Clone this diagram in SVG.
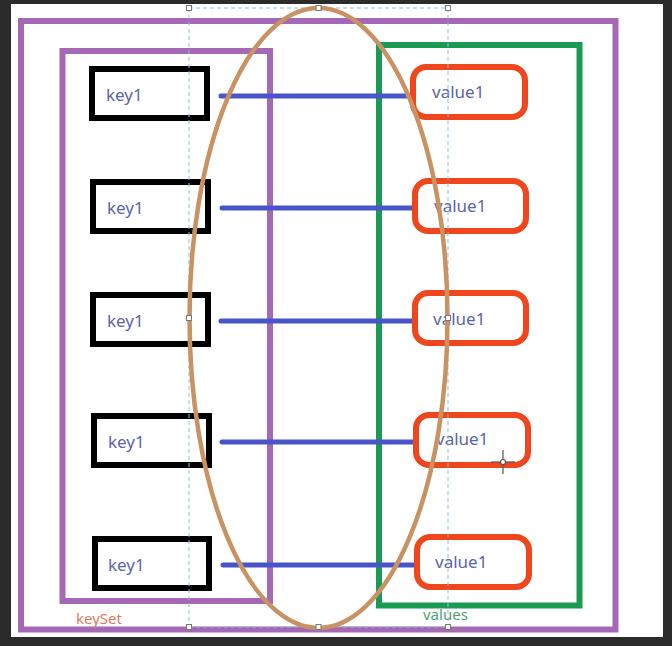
<svg xmlns="http://www.w3.org/2000/svg" width="672" height="646" viewBox="0 0 672 646">
  <style>
    .frame { fill: none; stroke: #a468b4; stroke-width: 6; }
    .vals { fill: none; stroke: #1a9a52; stroke-width: 6; }
    .key { fill: #ffffff; stroke: #000000; stroke-width: 6; }
    .val { fill: #ffffff; stroke: #f0461e; stroke-width: 6; }
    .link { stroke: #4755c8; stroke-width: 5; stroke-linecap: round; }
    .txt { font-family: "Noto Sans", "Liberation Sans", sans-serif; font-size: 17px; fill: #5d64aa; }
    .lbl { font-family: "Noto Sans", "Liberation Sans", sans-serif; font-size: 15px; }
    .sel { fill: none; stroke: #8bbfd8; stroke-width: 1; stroke-dasharray: 4 3; }
    .handle { fill: #ffffff; stroke: #777777; stroke-width: 1; }
  </style>
  <rect x="0" y="0" width="672" height="646" fill="#2b2b2b"/>
  <rect x="11" y="4" width="652" height="633" fill="#ffffff"/>

  <g id="outer-frame">
    <rect class="frame" x="21" y="21" width="594.5" height="608.5"/>
  </g>
  <g id="keySet">
    <rect class="frame" x="62.5" y="51" width="207.5" height="550"/>
    <text class="lbl" x="76" y="624" fill="#e07a62">keySet</text>
  </g>
  <g id="values">
    <rect class="vals" x="379" y="45" width="200.5" height="560.5"/>
    <text class="lbl" x="423" y="620" fill="#4f9e72">values</text>
  </g>

  <g id="connectors">
    <line class="link" x1="221" y1="96" x2="410" y2="96"/>
    <line class="link" x1="222" y1="208" x2="412" y2="208"/>
    <line class="link" x1="221" y1="321" x2="412" y2="321"/>
    <line class="link" x1="222" y1="442" x2="414" y2="442"/>
    <line class="link" x1="223" y1="565" x2="414" y2="565"/>
  </g>

  <g id="key-1"><rect class="key" x="92" y="69" width="115" height="49"/><text class="txt" x="106" y="101">key1</text></g>
  <g id="key-2"><rect class="key" x="93" y="182" width="115" height="49"/><text class="txt" x="107" y="214">key1</text></g>
  <g id="key-3"><rect class="key" x="93" y="295" width="115" height="49"/><text class="txt" x="107" y="327">key1</text></g>
  <g id="key-4"><rect class="key" x="94" y="416" width="115" height="49"/><text class="txt" x="108" y="448">key1</text></g>
  <g id="key-5"><rect class="key" x="95" y="539" width="114" height="49"/><text class="txt" x="108" y="571">key1</text></g>

  <g id="value-1"><rect class="val" x="413" y="67" width="112" height="50" rx="13"/><text class="txt" x="432" y="98">value1</text></g>
  <g id="value-2"><rect class="val" x="415" y="181" width="111" height="50" rx="13"/><text class="txt" x="434" y="212">value1</text></g>
  <g id="value-3"><rect class="val" x="415" y="293" width="111" height="50" rx="13"/><text class="txt" x="433" y="325">value1</text></g>
  <g id="value-4"><rect class="val" x="416" y="415" width="112" height="50" rx="13"/><text class="txt" x="436" y="445">value1</text></g>
  <g id="value-5"><rect class="val" x="417" y="537" width="112" height="50" rx="13"/><text class="txt" x="435" y="568">value1</text></g>

  <g id="selection">
    <line class="sel" x1="189" y1="8" x2="448" y2="8"/>
    <line class="sel" x1="189" y1="627" x2="448" y2="627"/>
    <line class="sel" x1="189" y1="8" x2="189" y2="627"/>
    <line class="sel" x1="448" y1="8" x2="448" y2="627"/>
  </g>

  <g id="ellipse">
    <ellipse cx="318.5" cy="318" rx="129" ry="310" fill="none" stroke="#c89262" stroke-width="4.5"/>
  </g>

  <g id="handles">
    <rect class="handle" x="186.5" y="5.5" width="5" height="5"/>
    <rect class="handle" x="316" y="5.5" width="5" height="5"/>
    <rect class="handle" x="445.5" y="5.5" width="5" height="5"/>
    <rect class="handle" x="186.5" y="624.5" width="5" height="5"/>
    <rect class="handle" x="316" y="624.5" width="5" height="5"/>
    <rect class="handle" x="445.5" y="624.5" width="5" height="5"/>
    <rect class="handle" x="186.5" y="315.5" width="5" height="5"/>
    <rect class="handle" x="445.5" y="315.5" width="5" height="5"/>
  </g>

  <g id="cursor" stroke="#555555" stroke-width="1.2">
    <line x1="503" y1="450" x2="503" y2="474"/>
    <line x1="491" y1="462" x2="515" y2="462"/>
    <circle cx="503" cy="462" r="2.5" fill="#ffffff"/>
  </g>
</svg>
